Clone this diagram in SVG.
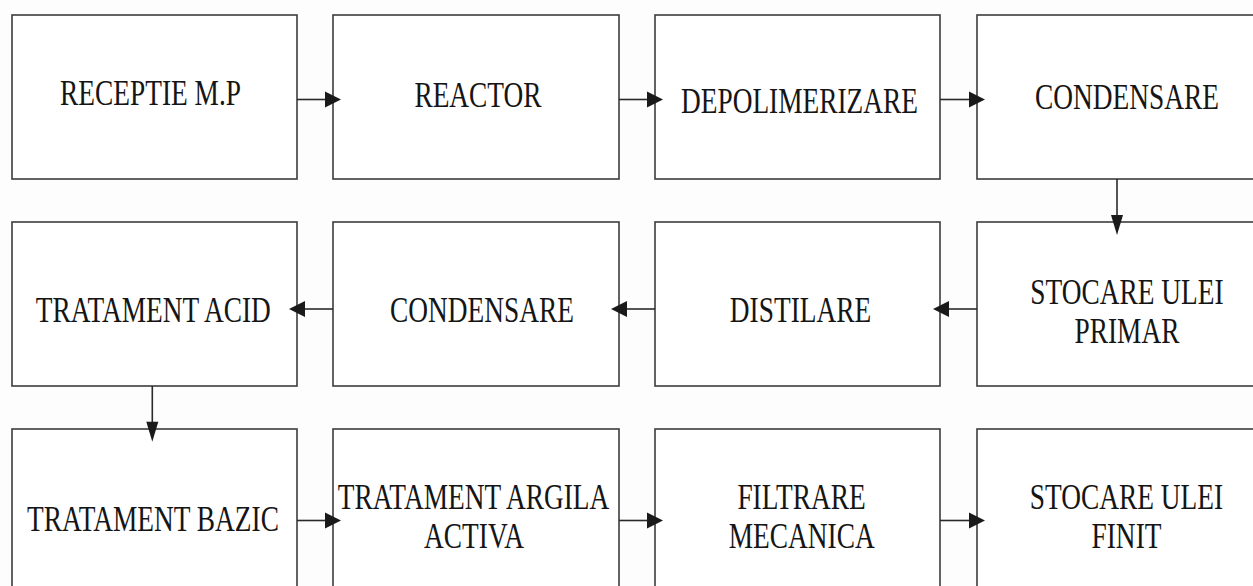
<svg xmlns="http://www.w3.org/2000/svg" width="1253" height="586" viewBox="0 0 1253 586">
<style>
.box{fill:#ffffff;stroke:#3c3c3c;stroke-width:1.6}
.lbl{font-family:"Liberation Serif","Times New Roman",serif;font-size:36px;fill:#151515;text-anchor:middle}
.ln{stroke:#2a2a2a;stroke-width:1.6;fill:none}
.hd{fill:#1a1a1a}
</style>
<rect width="1253" height="586" fill="#fdfdfd"/>
<g id="n1"><rect class="box" x="12" y="15" width="285" height="164"/><text class="lbl" transform="translate(150.5,105) scale(0.76,1)">RECEPTIE M.P</text></g>
<g id="n2"><rect class="box" x="333" y="15" width="286" height="164"/><text class="lbl" transform="translate(478,107) scale(0.76,1)">REACTOR</text></g>
<g id="n3"><rect class="box" x="655" y="15" width="285" height="164"/><text class="lbl" transform="translate(799.5,112.5) scale(0.76,1)">DEPOLIMERIZARE</text></g>
<g id="n4"><rect class="box" x="977" y="15" width="290" height="164"/><text class="lbl" transform="translate(1127,109) scale(0.76,1)">CONDENSARE</text></g>
<g id="n5"><rect class="box" x="977" y="222" width="290" height="164"/><text class="lbl" transform="translate(1127,304) scale(0.76,1)">STOCARE ULEI</text><text class="lbl" transform="translate(1127,343) scale(0.76,1)">PRIMAR</text></g>
<g id="n6"><rect class="box" x="655" y="222" width="285" height="164"/><text class="lbl" transform="translate(800.5,322) scale(0.76,1)">DISTILARE</text></g>
<g id="n7"><rect class="box" x="333" y="222" width="286" height="164"/><text class="lbl" transform="translate(482,322) scale(0.76,1)">CONDENSARE</text></g>
<g id="n8"><rect class="box" x="12" y="222" width="285" height="164"/><text class="lbl" transform="translate(153.3,322) scale(0.76,1)">TRATAMENT ACID</text></g>
<g id="n9"><rect class="box" x="12" y="429" width="285" height="170"/><text class="lbl" transform="translate(153,530.5) scale(0.76,1)">TRATAMENT BAZIC</text></g>
<g id="n10"><rect class="box" x="333" y="429" width="286" height="170"/><text class="lbl" transform="translate(473.5,509) scale(0.76,1)">TRATAMENT ARGILA</text><text class="lbl" transform="translate(474,548) scale(0.76,1)">ACTIVA</text></g>
<g id="n11"><rect class="box" x="655" y="429" width="285" height="170"/><text class="lbl" transform="translate(801.5,509) scale(0.76,1)">FILTRARE</text><text class="lbl" transform="translate(801.7,548) scale(0.76,1)">MECANICA</text></g>
<g id="n12"><rect class="box" x="977" y="429" width="290" height="170"/><text class="lbl" transform="translate(1126.5,509) scale(0.76,1)">STOCARE ULEI</text><text class="lbl" transform="translate(1126.5,548) scale(0.76,1)">FINIT</text></g>
<g id="connectors">
<line class="ln" x1="297" y1="99.5" x2="327" y2="99.5"/><polygon class="hd" points="325,91.5 341,99.5 325,107.5"/>
<line class="ln" x1="619" y1="99.5" x2="649" y2="99.5"/><polygon class="hd" points="647,91.5 663,99.5 647,107.5"/>
<line class="ln" x1="940" y1="99.5" x2="971" y2="99.5"/><polygon class="hd" points="969,91.5 985,99.5 969,107.5"/>
<line class="ln" x1="1117" y1="179" x2="1117" y2="217"/><polygon class="hd" points="1111,215 1123,215 1117,235"/>
<line class="ln" x1="977" y1="309" x2="947" y2="309"/><polygon class="hd" points="949,301 933,309 949,317"/>
<line class="ln" x1="655" y1="309" x2="625" y2="309"/><polygon class="hd" points="627,301 611,309 627,317"/>
<line class="ln" x1="333" y1="309" x2="303" y2="309"/><polygon class="hd" points="305,301 289,309 305,317"/>
<line class="ln" x1="152.3" y1="386" x2="152.3" y2="424"/><polygon class="hd" points="146.3,421.7 158.3,421.7 152.3,441.7"/>
<line class="ln" x1="297" y1="520.5" x2="327" y2="520.5"/><polygon class="hd" points="325,512.5 341,520.5 325,528.5"/>
<line class="ln" x1="619" y1="520.5" x2="649" y2="520.5"/><polygon class="hd" points="647,512.5 663,520.5 647,528.5"/>
<line class="ln" x1="940" y1="520.5" x2="971" y2="520.5"/><polygon class="hd" points="969,512.5 985,520.5 969,528.5"/>
</g>
</svg>
